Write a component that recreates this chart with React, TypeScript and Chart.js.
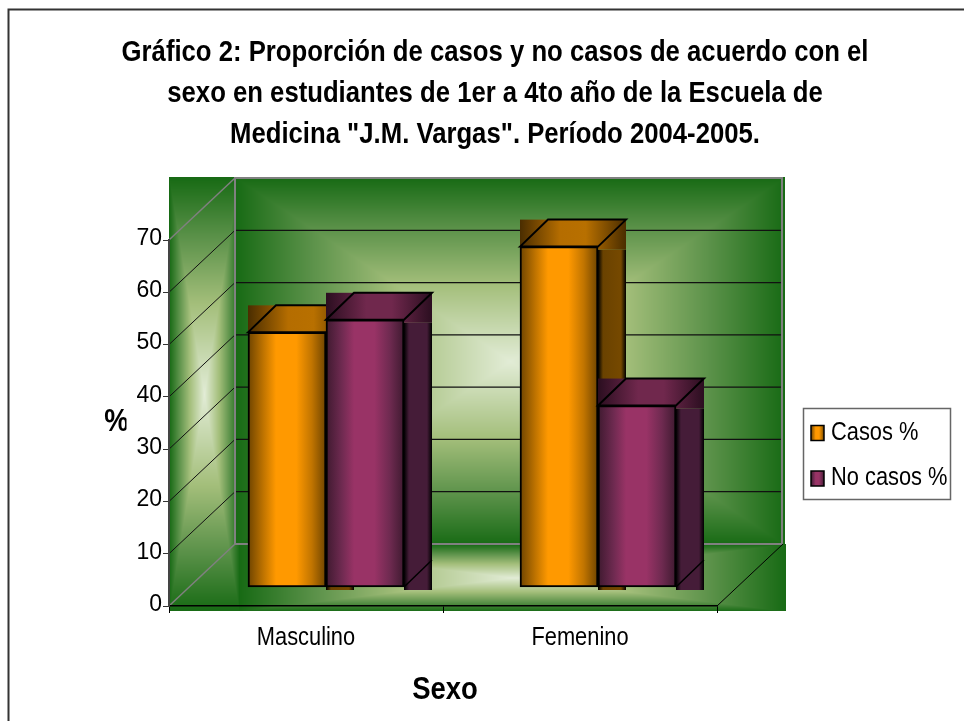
import React, { useEffect, useRef } from "react";
import { Chart, registerables } from "chart.js";

Chart.register(...registerables);

const categories = ["Masculino", "Femenino"];
const casos = [48.8, 65.2];
const noCasos = [51.2, 34.8];
const seriesNames = ["Casos %", "No casos %"];
const titleLines = [
  "Gráfico 2: Proporción de casos y no casos de acuerdo con el",
  "sexo en estudiantes de 1er a 4to año de la Escuela de",
  'Medicina "J.M. Vargas". Período 2004-2005.',
];
const xTitle = "Sexo";
const yTitle = "%";

const FONT = '"Liberation Sans", Arial, sans-serif';
const WALL_STOPS: [number, number[]][] = [
  [0, [0x17, 0x6a, 0x14]],
  [0.28, [0x5c, 0x92, 0x4a]],
  [0.58, [0xa3, 0xbe, 0x7a]],
  [1, [0xe2, 0xec, 0xd6]],
];
const FRONT_STOPS = [0, 0.2, 0.36, 0.62, 0.82, 1];
const TOP_STOPS = [0, 0.38, 0.62, 1];
const SIDE_STOPS = [0, 0.18, 0.82, 1];
const PALETTE = [
  {
    front: ["#6e4400", "#c07400", "#ff9900", "#ff9900", "#c07400", "#6e4400"],
    top: ["#4a2d00", "#b56d00", "#b87000", "#4a2d00"],
    side: ["#000000", "#6a4200", "#764900", "#000000"],
  },
  {
    front: ["#3f1a30", "#6e2a50", "#993366", "#993366", "#6e2a50", "#3f1a30"],
    top: ["#2b0e20", "#70284d", "#70284d", "#2b0e20"],
    side: ["#000000", "#451c38", "#451c38", "#000000"],
  },
];
const DEPTH_X = 66;
const DEPTH_Y = 62;
const CATEGORY_DX = [20, 18];
const BAR_DY = -18.5;
const BAR_DEPTH_X = 28;
const BAR_DEPTH_Y = 27;

function wallFill(ctx: CanvasRenderingContext2D, x: number, y: number, w: number, h: number) {
  const img = ctx.createImageData(w, h);
  const hw = w / 2;
  const hh = h / 2;
  let p = 0;
  for (let j = 0; j < h; j++) {
    for (let i = 0; i < w; i++) {
      const t = 1 - Math.max(Math.abs(i - hw) / hw, Math.abs(j - hh) / hh);
      let k = 0;
      while (k < WALL_STOPS.length - 2 && t > WALL_STOPS[k + 1][0]) k++;
      const [a, ca] = WALL_STOPS[k];
      const [b, cb] = WALL_STOPS[k + 1];
      const u = Math.min(1, Math.max(0, (t - a) / (b - a)));
      img.data[p++] = ca[0] + (cb[0] - ca[0]) * u;
      img.data[p++] = ca[1] + (cb[1] - ca[1]) * u;
      img.data[p++] = ca[2] + (cb[2] - ca[2]) * u;
      img.data[p++] = 255;
    }
  }
  ctx.putImageData(img, x, y);
}

function hGrad(ctx: CanvasRenderingContext2D, x0: number, x1: number, colors: string[], stops: number[]) {
  const g = ctx.createLinearGradient(x0, 0, x1, 0);
  colors.forEach((c, i) => g.addColorStop(stops[i], c));
  return g;
}

function line(ctx: CanvasRenderingContext2D, pts: number[][], color: string, width: number, close = false) {
  ctx.strokeStyle = color;
  ctx.lineWidth = width;
  ctx.beginPath();
  pts.forEach((p, i) => (i ? ctx.lineTo(p[0], p[1]) : ctx.moveTo(p[0], p[1])));
  if (close) ctx.closePath();
  ctx.stroke();
}

const scenePlugin = {
  id: "scene3d",
  beforeDraw(chart: any) {
    const { ctx } = chart;
    const { left, right, bottom } = chart.chartArea;
    const y = chart.scales.y;
    const backLeft = left + DEPTH_X;
    const backRight = right + DEPTH_X;
    ctx.save();
    ctx.fillStyle = "#fff";
    ctx.fillRect(0, 0, chart.width, chart.height);
    line(ctx, [[8.5, chart.height + 4], [8.5, 9.5], [chart.width + 4, 9.5]], "#333", 2);
    wallFill(ctx, left, 177, 70, 434);
    wallFill(ctx, backLeft, 177, 550, 368);
    wallFill(ctx, left + 70, 544, 547, 67);
    y.ticks.forEach((t: any) => {
      const fy = y.getPixelForValue(t.value);
      const by = fy - DEPTH_Y;
      if (t.value !== 0 && t.value !== 70) {
        line(ctx, [[backLeft, by], [backRight - 2, by]], "#111", 1.2);
        line(ctx, [[left, fy], [backLeft, by]], "#111", 1);
      }
    });
    const top = y.getPixelForValue(70);
    line(ctx, [[left, bottom], [backLeft, bottom - DEPTH_Y]], "#808080", 1.5);
    line(ctx, [[left, top], [backLeft, top - DEPTH_Y]], "#808080", 1.5);
    line(
      ctx,
      [[backLeft, bottom - DEPTH_Y], [backLeft, top - DEPTH_Y], [backRight - 1, top - DEPTH_Y], [backRight - 1, bottom - DEPTH_Y], [backLeft, bottom - DEPTH_Y]],
      "#808080",
      2
    );
    line(ctx, [[right, bottom], [backRight, bottom - DEPTH_Y]], "#000", 1);
    ctx.restore();
  },
  beforeDatasetsDraw(chart: any) {
    const { ctx } = chart;
    // first series first, so the second one overlaps it as in the picture
    chart.data.datasets.forEach((_: any, index: number) => {
      const pal = PALETTE[index];
      chart.getDatasetMeta(index).data.forEach((bar: any, cat: number) => {
        const dx = CATEGORY_DX[cat];
        const { x, y, base, width } = bar.getProps(["x", "y", "base", "width"], true);
        const L = x - width / 2 + dx;
        const R = x + width / 2 + dx;
        const T = y + BAR_DY;
        const B = base + BAR_DY;
        const rx = R + BAR_DEPTH_X;
        ctx.save();
        ctx.fillStyle = hGrad(ctx, R, rx, pal.side, SIDE_STOPS);
        ctx.fillRect(R, T + 3, BAR_DEPTH_X, B - T);
        line(ctx, [[R, B], [rx, B - BAR_DEPTH_Y]], "#000", 1.5);
        ctx.fillStyle = hGrad(ctx, L, rx, pal.top, TOP_STOPS);
        ctx.fillRect(L, T - BAR_DEPTH_Y, rx - L, BAR_DEPTH_Y + 3);
        line(ctx, [[L, T], [L + BAR_DEPTH_X, T - BAR_DEPTH_Y], [rx, T - BAR_DEPTH_Y], [R, T]], "#000", 2, true);
        ctx.translate(dx, BAR_DY);
        const saved = bar.options;
        bar.options = { ...saved, backgroundColor: hGrad(ctx, L - dx, R - dx, pal.front, FRONT_STOPS) };
        bar.draw(ctx, chart.chartArea);
        bar.options = saved;
        ctx.restore();
      });
    });
    return false;
  },
  afterDraw(chart: any) {
    const { ctx } = chart;
    ctx.save();
    ctx.fillStyle = "#000";
    ctx.textBaseline = "middle";
    ctx.textAlign = "center";
    ctx.font = `bold 31px ${FONT}`;
    ctx.fillText(xTitle, 445, 690);
    ctx.save();
    ctx.beginPath();
    ctx.rect(90, 400, 36.5, 50);
    ctx.clip();
    ctx.fillText(yTitle, 116.5, 422);
    ctx.restore();
    ctx.fillStyle = "#fff";
    ctx.fillRect(803.5, 408.5, 147, 91);
    line(ctx, [[803.5, 408.5], [950.5, 408.5], [950.5, 499.5], [803.5, 499.5]], "#666", 1.5, true);
    ctx.textAlign = "left";
    ctx.font = `26px ${FONT}`;
    chart.data.datasets.forEach((d: any, i: number) => {
      const cy = i === 0 ? 433 : 478.5;
      ctx.fillStyle = hGrad(ctx, 811, 824, PALETTE[i].front, FRONT_STOPS);
      ctx.fillRect(811, cy - 7.5, 13, 15);
      line(ctx, [[811, cy - 7.5], [824, cy - 7.5], [824, cy + 7.5], [811, cy + 7.5]], "#000", 1.5, true);
      ctx.fillStyle = "#000";
      ctx.fillText(d.label, 831, i === 0 ? 432.5 : 478);
    });
    ctx.restore();
  },
};

export default function App() {
  const ref = useRef<HTMLCanvasElement>(null);
  useEffect(() => {
    const c2d: any = ref.current!.getContext("2d");
    const plainFillText = c2d.fillText;
    // The picture's labels are a horizontally condensed Arial; no narrow face is installed.
    c2d.fillText = function (text: string, x: number, y: number) {
      if (/^\d+$/.test(String(text))) return plainFillText.call(c2d, text, x, y);
      const factor = c2d.font.includes("bold") ? 0.886 : 0.84;
      c2d.save();
      c2d.translate(x, y);
      c2d.scale(factor, 1);
      plainFillText.call(c2d, text, 0, 0);
      c2d.restore();
    };
    const chart = new Chart(ref.current!, {
      type: "bar",
      data: {
        labels: categories,
        datasets: [
          { label: seriesNames[0], data: casos, backgroundColor: "#ff9900", borderColor: "#000", borderWidth: 2, borderSkipped: false, barThickness: 78 },
          { label: seriesNames[1], data: noCasos, backgroundColor: "#993366", borderColor: "#000", borderWidth: 2, borderSkipped: false, barThickness: 78 },
        ] as any,
      },
      options: {
        responsive: false,
        animation: false,
        devicePixelRatio: 1,
        layout: { padding: { left: 26, right: 0, top: 0, bottom: 0 } },
        plugins: {
          legend: { display: false },
          tooltip: { enabled: false },
          title: {
            display: true,
            text: titleLines,
            color: "#000",
            font: { family: FONT, size: 29, weight: "bold", lineHeight: 41 / 29 },
            padding: { top: 32, bottom: 85 },
          },
        },
        scales: {
          x: {
            grid: { drawOnChartArea: false, drawTicks: true, tickLength: 7, color: "#000", lineWidth: 1 },
            border: { color: "#000", width: 1.5 },
            ticks: { color: "#000", font: { family: FONT, size: 26 }, padding: 9, maxRotation: 0 },
            afterFit: (s: any) => { s.height = 115; },
          },
          y: {
            min: 0,
            max: 70,
            grid: { drawOnChartArea: false, drawTicks: true, tickLength: 6, color: "#333", lineWidth: 1 },
            border: { color: "#444", width: 2 },
            ticks: { stepSize: 10, color: "#000", font: { family: FONT, size: 23 }, padding: 1, labelOffset: -1.5 },
            afterFit: (s: any) => { s.width = 143; },
          },
          spacer: {
            position: "right",
            grid: { display: false },
            border: { display: false },
            ticks: { display: false },
            afterFit: (s: any) => { s.width = 247; },
          },
        },
      } as any,
      plugins: [scenePlugin as any],
    });
    return () => {
      chart.destroy();
      delete c2d.fillText;
    };
  }, []);
  return (
    <canvas
      ref={ref}
      width={964}
      height={721}
      style={{ position: "fixed", left: 0, top: 0, display: "block" }}
    />
  );
}
